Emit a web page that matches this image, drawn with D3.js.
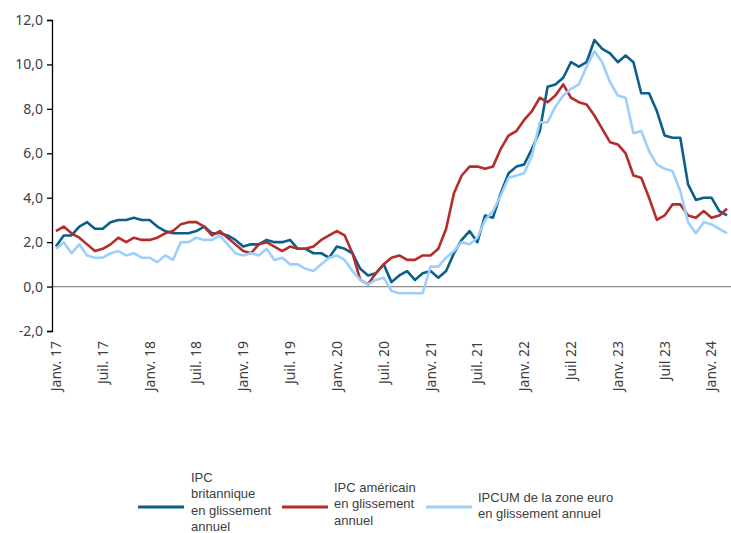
<!DOCTYPE html>
<html>
<head>
<meta charset="utf-8">
<script src="https://cdn.jsdelivr.net/npm/d3@7"></script>
<style>
  body { margin: 0; background: #fff; }
  svg text { font-family: "Noto Sans", sans-serif; fill: #404040; }
  svg .leg text { font-family: "Liberation Sans", Arial, sans-serif; }
</style>
</head>
<body>
<div id="chart"></div>
<script>
// Mois de janv. 2017 à mars 2024
const months = d3.timeMonth.range(new Date(2017, 0, 1), new Date(2024, 3, 1));

const ukCpi = [
  1.8, 2.3, 2.3, 2.7, 2.9, 2.6, 2.6, 2.9, 3.0, 3.0, 3.1, 3.0,
  3.0, 2.7, 2.5, 2.4, 2.4, 2.4, 2.5, 2.7, 2.4, 2.4, 2.3, 2.1,
  1.8, 1.9, 1.9, 2.1, 2.0, 2.0, 2.1, 1.7, 1.7, 1.5, 1.5, 1.3,
  1.8, 1.7, 1.5, 0.8, 0.5, 0.6, 1.0, 0.2, 0.5, 0.7, 0.3, 0.6,
  0.7, 0.4, 0.7, 1.5, 2.1, 2.5, 2.0, 3.2, 3.1, 4.2, 5.1, 5.4,
  5.5, 6.2, 7.0, 9.0, 9.1, 9.4, 10.1, 9.9, 10.1, 11.1, 10.7, 10.5,
  10.1, 10.4, 10.1, 8.7, 8.7, 7.9, 6.8, 6.7, 6.7, 4.6, 3.9, 4.0,
  4.0, 3.4, 3.2
];

const usCpi = [
  2.5, 2.7, 2.4, 2.2, 1.9, 1.6, 1.7, 1.9, 2.2, 2.0, 2.2, 2.1,
  2.1, 2.2, 2.4, 2.5, 2.8, 2.9, 2.9, 2.7, 2.3, 2.5, 2.2, 1.9,
  1.6, 1.5, 1.9, 2.0, 1.8, 1.6, 1.8, 1.7, 1.7, 1.8, 2.1, 2.3,
  2.5, 2.3, 1.5, 0.3, 0.1, 0.6, 1.0, 1.3, 1.4, 1.2, 1.2, 1.4,
  1.4, 1.7, 2.6, 4.2, 5.0, 5.4, 5.4, 5.3, 5.4, 6.2, 6.8, 7.0,
  7.5, 7.9, 8.5, 8.3, 8.6, 9.1, 8.5, 8.3, 8.2, 7.7, 7.1, 6.5,
  6.4, 6.0, 5.0, 4.9, 4.0, 3.0, 3.2, 3.7, 3.7, 3.2, 3.1, 3.4,
  3.1, 3.2, 3.5
];

const euHicp = [
  1.7, 2.0, 1.5, 1.9, 1.4, 1.3, 1.3, 1.5, 1.6, 1.4, 1.5, 1.3,
  1.3, 1.1, 1.4, 1.2, 2.0, 2.0, 2.2, 2.1, 2.1, 2.3, 1.9, 1.5,
  1.4, 1.5, 1.4, 1.7, 1.2, 1.3, 1.0, 1.0, 0.8, 0.7, 1.0, 1.3,
  1.4, 1.2, 0.7, 0.3, 0.1, 0.3, 0.4, -0.2, -0.3, -0.3, -0.3, -0.3,
  0.9, 0.9, 1.3, 1.6, 2.0, 1.9, 2.2, 3.0, 3.4, 4.1, 4.9, 5.0,
  5.1, 5.9, 7.4, 7.4, 8.1, 8.6, 8.9, 9.1, 9.9, 10.6, 10.1, 9.2,
  8.6, 8.5, 6.9, 7.0, 6.1, 5.5, 5.3, 5.2, 4.3, 2.9, 2.4, 2.9,
  2.8, 2.6, 2.4
];

const tickLabels = [
  "Janv. 17", "Juil. 17", "Janv. 18", "Juil. 18", "Janv. 19", "Juil. 19",
  "Janv. 20", "Juil. 20", "Janv. 21", "Juil. 21", "Janv. 22", "Juil 22",
  "Janv. 23", "Juil 23", "Janv. 24"
];
const yTicks = [-2, 0, 2, 4, 6, 8, 10, 12];

const series = [
  { name: ["IPC", "britannique", "en glissement", "annuel"], values: ukCpi, color: "#0b5f8a" },
  { name: ["IPC américain", "en glissement", "annuel"], values: usCpi, color: "#b32d2b" },
  { name: ["IPCUM de la zone euro", "en glissement annuel"], values: euHicp, color: "#9dcffc" }
];

const W = 731, H = 533;
const margin = { top: 20, right: 0, bottom: 202, left: 52 };
const width = W - margin.left - margin.right;
const height = H - margin.top - margin.bottom;

const svg = d3.select("#chart").append("svg")
  .attr("width", W)
  .attr("height", H);

const g = svg.append("g")
  .attr("transform", `translate(${margin.left},${margin.top})`);

const x = d3.scaleBand()
  .domain(d3.range(months.length))
  .range([0, width]);
const cx = i => x(i) + x.bandwidth() / 2;

const y = d3.scaleLinear()
  .domain([-2, 12])
  .range([height, 0]);

// ligne du zéro
g.append("line")
  .attr("x1", 0).attr("x2", width)
  .attr("y1", y(0)).attr("y2", y(0))
  .attr("stroke", "#8c8c8c")
  .attr("stroke-width", 1.2);

// axe vertical
const yAxis = g.append("g")
  .call(d3.axisLeft(y)
    .tickValues(yTicks)
    .tickSize(5)
    .tickFormat(d => d3.format(".1f")(d).replace(".", ",").replace("−", "-")));
yAxis.select(".domain").attr("stroke", "#000").attr("stroke-width", 1.3);
yAxis.selectAll(".tick line").attr("stroke", "#000").attr("stroke-width", 1.3);
yAxis.selectAll("text")
  .attr("x", -9)
  .style("font-size", "14px")
  .attr("fill", "#404040");

// étiquettes de l'axe des x, tous les six mois
g.selectAll(".xlab")
  .data(tickLabels)
  .enter()
  .append("text")
  .attr("class", "xlab")
  .attr("transform", (d, i) => `translate(${cx(i * 6) + 5},${height + 10}) rotate(-90)`)
  .attr("text-anchor", "end")
  .style("font-size", "14px")
  .text(d => d);

// courbes
const line = d3.line()
  .x((d, i) => cx(i))
  .y(d => y(d));

series.forEach(s => {
  g.append("path")
    .datum(s.values)
    .attr("fill", "none")
    .attr("stroke", s.color)
    .attr("stroke-width", 2.6)
    .attr("stroke-linejoin", "round")
    .attr("d", line);
});

// légende
const legendPos = [
  { x: 138, lineY: 507, textX: 191, textY: 482 },
  { x: 282, lineY: 507, textX: 334, textY: 492 },
  { x: 426, lineY: 507, textX: 478, textY: 502 }
];
const legend = svg.append("g").attr("class", "leg");
series.forEach((s, i) => {
  const p = legendPos[i];
  legend.append("line")
    .attr("x1", p.x).attr("x2", p.x + 46)
    .attr("y1", p.lineY).attr("y2", p.lineY)
    .attr("stroke", s.color)
    .attr("stroke-width", 3);
  s.name.forEach((ln, j) => {
    legend.append("text")
      .attr("x", p.textX)
      .attr("y", p.textY + j * 16.3)
      .style("font-size", "13px")
      .text(ln);
  });
});
</script>
</body>
</html>
